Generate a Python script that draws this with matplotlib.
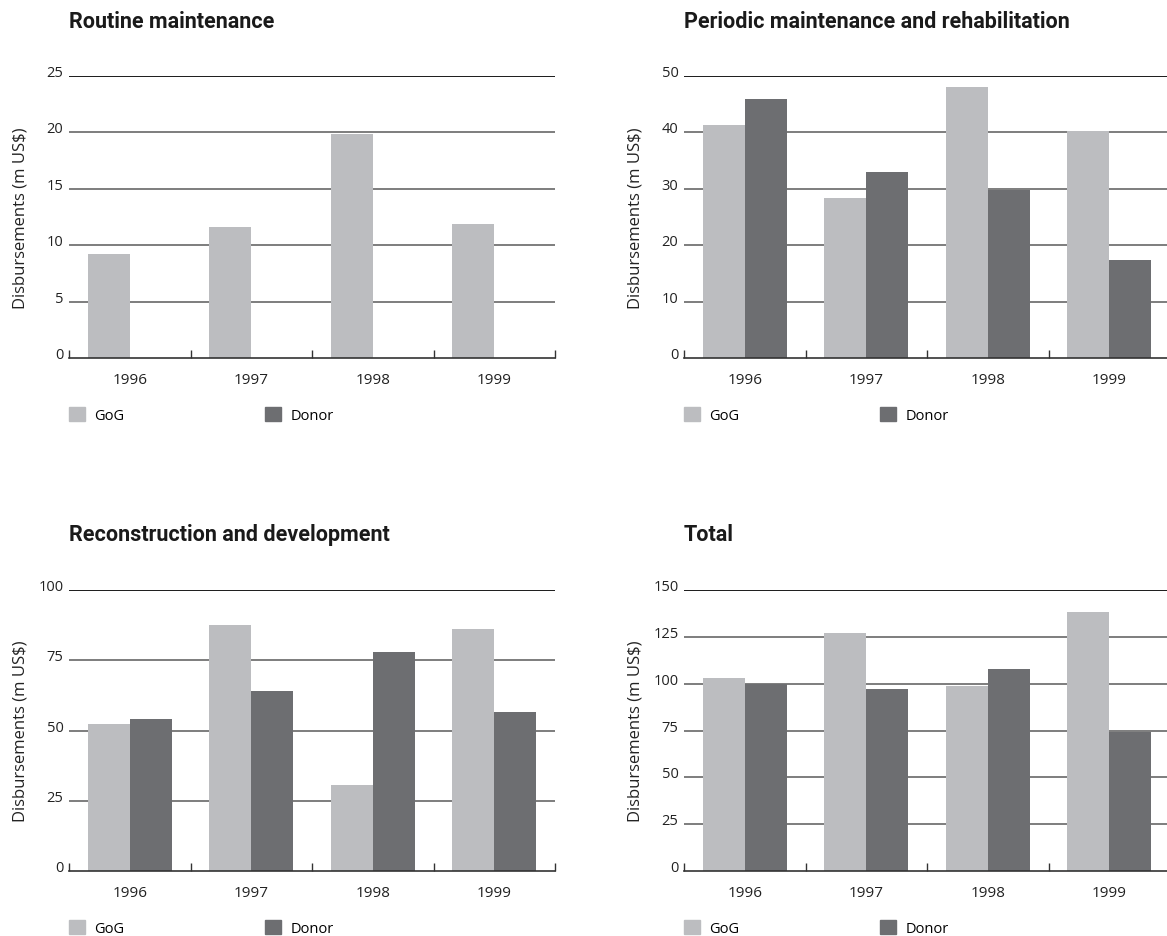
import matplotlib
matplotlib.use('Agg')
import matplotlib.pyplot as plt
from matplotlib.patches import Patch
import numpy as np

years = ['1996', '1997', '1998', '1999']
series_names = ['GoG', 'Donor']

titles = ['Routine maintenance',
          'Periodic maintenance and rehabilitation',
          'Reconstruction and development',
          'Total']

routine_gog = [9.2, 11.6, 19.9, 11.9]
routine_donor = [0, 0, 0, 0]
periodic_gog = [41.4, 28.4, 48.1, 40.3]
periodic_donor = [46.0, 32.9, 29.7, 17.4]
recon_gog = [52.3, 87.5, 30.7, 86.0]
recon_donor = [54.1, 64.0, 77.9, 56.6]
total_gog = [102.8, 127.3, 98.6, 138.5]
total_donor = [100.0, 97.0, 107.6, 74.1]

yticks_routine = [0, 5, 10, 15, 20, 25]
yticks_periodic = [0, 10, 20, 30, 40, 50]
yticks_recon = [0, 25, 50, 75, 100]
yticks_total = [0, 25, 50, 75, 100, 125, 150]

panels = [
    (routine_gog, routine_donor, yticks_routine),
    (periodic_gog, periodic_donor, yticks_periodic),
    (recon_gog, recon_donor, yticks_recon),
    (total_gog, total_donor, yticks_total),
]

col_gog = '#bcbdc0'
col_donor = '#6d6e71'
font_main = ['Open Sans', 'DejaVu Sans']
font_title = ['Roboto', 'DejaVu Sans']

plt.rcParams['font.family'] = font_main

W, H = 1167, 937
fig = plt.figure(figsize=(W / 100, H / 100), dpi=100)

# axes boxes in pixels: left, bottom(y of zero line), right, top
boxes = [(69, 359, 555, 77), (684, 359, 1170, 77),
         (69, 872, 555, 591), (684, 872, 1170, 591)]
title_y = [22, 22, 535, 535]

bw = 0.345
x = np.arange(len(years))
for k, (gog, donor, yt) in enumerate(panels):
    l, b, r, t = boxes[k]
    ax = fig.add_axes([l / W, 1 - b / H, (r - l) / W, (b - t) / H])
    ax.bar(x - bw / 2, gog, bw, color=col_gog, zorder=3)
    ax.bar(x + bw / 2, donor, bw, color=col_donor, zorder=3)

    ax.set_ylim(0, yt[-1])
    ax.set_xlim(-0.5, len(years) - 0.5)
    for v in yt[1:]:
        c = '#1a1a1a' if v == yt[-1] else '#7d7d7d'
        ax.axhline(v, color=c, lw=1.4, zorder=1)

    for s in ['top', 'right', 'left']:
        ax.spines[s].set_visible(False)
    ax.spines['bottom'].set_color('#333333')
    ax.spines['bottom'].set_linewidth(1.2)
    ax.spines['bottom'].set_zorder(4)

    ax.set_yticks(yt)
    ax.set_yticklabels([str(v) for v in yt], fontsize=10.5, color='#222222')
    ax.tick_params(axis='y', length=0, pad=4)
    for lab in ax.get_yticklabels():
        lab.set_verticalalignment('baseline')

    ax.set_xticks(np.arange(-0.5, len(years)), minor=False)
    ax.set_xticklabels([])
    ax.tick_params(axis='x', which='major', direction='in', length=6,
                   width=1, color='#333333')
    ax.set_xticks(x, minor=True)
    ax.set_xticklabels(years, minor=True, fontsize=11, color='#222222')
    ax.tick_params(axis='x', which='minor', length=0, pad=10)

    ax.set_ylabel('Disbursements (m US$)', fontsize=12, color='#222222')
    ax.yaxis.set_label_coords(-0.084, 0.5)

    handles = [Patch(color=col_gog, label=series_names[0]),
               Patch(color=col_donor, label=series_names[1])]
    ax.legend(handles=handles, loc='upper left', bbox_to_anchor=(0, -0.175),
              ncol=2, frameon=False, fontsize=10.5, borderpad=0,
              borderaxespad=0, handlelength=1.1, handleheight=1.1,
              handletextpad=0.6, columnspacing=9.7)

    fig.text(l / W, 1 - title_y[k] / H, titles[k], fontsize=15.5,
             fontweight='bold', family=font_title, color='#1a1a1a',
             va='center', ha='left')

fig.savefig('out.png', dpi=100)
